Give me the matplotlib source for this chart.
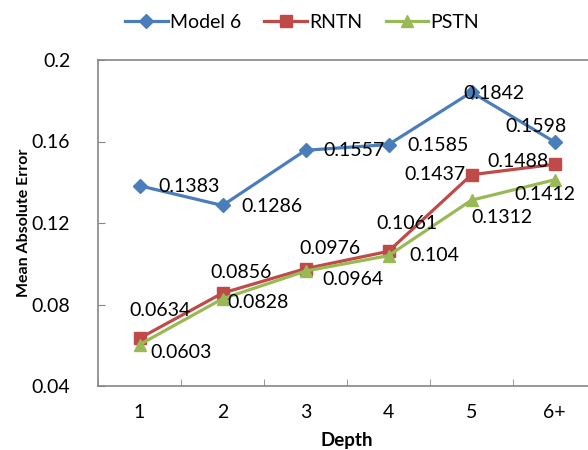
import matplotlib
matplotlib.use("Agg")
import matplotlib.pyplot as plt

plt.rcParams['font.family'] = ['Lato', 'DejaVu Sans']

depth = ["1", "2", "3", "4", "5", "6+"]
model6 = [0.1383, 0.1286, 0.1557, 0.1585, 0.1842, 0.1598]
rntn = [0.0634, 0.0856, 0.0976, 0.1061, 0.1437, 0.1488]
pstn = [0.0603, 0.0828, 0.0964, 0.104, 0.1312, 0.1412]

# label offsets in pixels (dx, dy), dy up positive
off_model6 = [(50, -1), (49, -1), (49, 0), (50, -1), (22, -1), (-19, 15)]
off_rntn = [(21, 28), (19, 21), (24, 20), (18, 28), (-37, 0), (-37, 3)]
off_pstn = [(42, -8), (36, -4), (47, -8), (46, 0), (30, -17), (-10, -15)]

blue, red, green = "#4A7EBB", "#BE4B48", "#98B954"
gray = "#868686"

fig = plt.figure(figsize=(5.88, 4.5), dpi=100)
ax = fig.add_axes([98 / 588, 64 / 450, 498 / 588, 326 / 450])

x = range(len(depth))
ax.plot(x, model6, color=blue, lw=2.3, marker="D", ms=7, label="Model 6", zorder=3)
ax.plot(x, rntn, color=red, lw=2.3, marker="s", ms=9, label="RNTN", zorder=3)
ax.plot(x, pstn, color=green, lw=2.3, marker="^", ms=9, label="PSTN", zorder=4)

for vals, offs in [(model6, off_model6), (rntn, off_rntn), (pstn, off_pstn)]:
    for i, (v, o) in enumerate(zip(vals, offs)):
        ax.annotate(f"{v:g}", (i, v), xytext=o, textcoords="offset pixels",
                    ha="center", va="center", fontsize=14, color="black", zorder=5)

ax.set_xlim(-0.5, 5.5)
ax.set_ylim(0.04, 0.2)
ax.set_yticks([0.04, 0.08, 0.12, 0.16, 0.2], ["0.04", "0.08", "0.12", "0.16", "0.2"])
ax.set_xticks(range(6), depth)
ax.set_xticks([i + 0.5 for i in range(-1, 6)], minor=True)
ax.tick_params(axis="x", which="major", length=0, pad=13, labelsize=14)
ax.tick_params(axis="x", which="minor", direction="in", length=5, color=gray)
ax.tick_params(axis="y", direction="in", length=5, color=gray, pad=20, labelsize=14)

for s in ["left", "bottom", "top"]:
    ax.spines[s].set_color(gray)
    ax.spines[s].set_linewidth(1.2)
ax.spines["right"].set_visible(False)

ax.set_ylabel("Mean Absolute Error", fontsize=11.5, fontweight="bold", labelpad=0)
ax.set_xlabel("Depth", fontsize=13.5, fontweight="bold", labelpad=8)

fig.legend(loc="center", bbox_to_anchor=(302 / 588, 1 - 22 / 450), ncol=3,
           frameon=False, fontsize=14, handlelength=2.2, columnspacing=1.2,
           handletextpad=0.1)

fig.savefig("out.png", dpi=100)
